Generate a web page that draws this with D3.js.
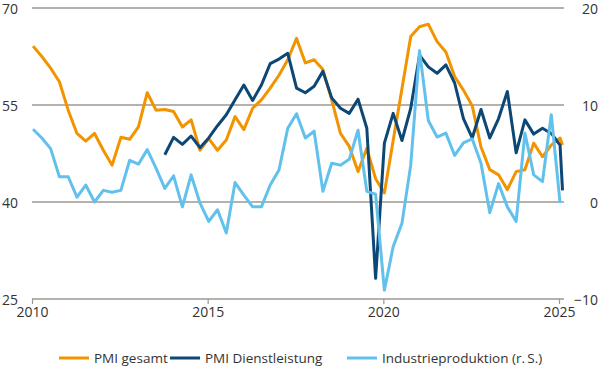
<!DOCTYPE html>
<html>
<head>
<meta charset="utf-8">
<script src="https://cdn.jsdelivr.net/npm/d3@7"></script>
<style>
  body { margin: 0; background: #fff; }
  text { font-family: "Open Sans", "Noto Sans", sans-serif; fill: #333; }
</style>
</head>
<body>
<div id="chart"></div>
<script>
// quarterly series, first value 2010 Q1
const pmiGesamt = [
  64.1, 62.5, 60.7, 58.6, 54.2, 50.6, 49.4, 50.6, 48.0, 45.7,
  50.0, 49.7, 51.6, 56.9, 54.2, 54.3, 54.0, 51.6, 52.7, 48.0,
  49.8, 48.0, 49.6, 53.2, 51.2, 54.5, 55.8, 57.6, 59.6, 62.0,
  65.3, 61.5, 62.0, 60.5, 55.8, 50.6, 48.6, 44.7, 48.3, 43.6,
  41.4, 49.5, 57.5, 65.6, 67.1, 67.5, 64.8, 63.2, 59.4, 57.3,
  54.9, 48.5, 45.0, 44.2, 41.9, 44.7, 45.0, 49.1, 47.0, 48.8,
  49.9, 48.8
];
// starts 2013 Q4
const pmiDienst = [
  47.3, 50.0, 48.9, 50.2, 48.4, 49.9, 51.8, 53.5, 55.8, 58.1,
  55.7, 58.1, 61.4, 62.1, 63.0, 57.6, 56.9, 57.9, 60.2, 56.1,
  54.5, 53.7, 55.9, 51.4, 28.2, 49.1, 53.7, 49.5, 54.5, 62.7,
  60.9, 59.9, 61.2, 58.4, 52.9, 49.9, 54.3, 49.9, 52.9, 57.1,
  47.6, 52.7, 50.5, 51.4, 50.6, 48.8, 41.8
];
const dienstStart = 15;
// right axis
const industrie = [
  7.5, 6.6, 5.5, 2.6, 2.6, 0.5, 1.75, 0.0, 1.2, 1.0,
  1.2, 4.3, 3.9, 5.4, 3.5, 1.4, 2.7, -0.5, 2.8, -0.1,
  -2.0, -0.8, -3.2, 2.0, 0.7, -0.5, -0.5, 1.75, 3.3, 7.6,
  9.1, 6.6, 7.3, 1.1, 4.0, 3.8, 4.4, 7.4, 1.1, 0.8,
  -9.1, -4.6, -2.2, 3.8, 15.6, 8.4, 6.7, 7.1, 4.8, 6.1,
  6.5, 4.0, -1.1, 1.9, -0.5, -2.0, 7.1, 2.8, 2.1, 9.0,
  -0.1
];
const lastDate = 2025.1; // partial period at the end

const xTicks = [2010, 2015, 2020, 2025];
const leftTicks = [25, 40, 55, 70];
const rightTicks = [-10, 0, 10, 20];
const seriesNames = ['PMI gesamt', 'PMI Dienstleistung', 'Industrieproduktion (r.\u2009S.)'];
const colors = ['#f29400', '#0d4776', '#62c1ec'];

const width = 600, height = 380;
const svg = d3.select('#chart').append('svg')
  .attr('width', width)
  .attr('height', height);

const x = d3.scaleLinear().domain([2010, 2025]).range([32, 559]);
const yL = d3.scaleLinear().domain([25, 70]).range([299, 8]);
const yR = d3.scaleLinear().domain([-10, 20]).range([299, 8]);

function dateOf(i, n) {
  return i === n - 1 && i > 60 ? lastDate : 2010.03 + i / 4;
}

// gridlines
svg.append('g')
  .selectAll('line')
  .data(leftTicks.slice(1))
  .enter()
  .append('line')
  .attr('x1', 32).attr('x2', 564)
  .attr('y1', d => yL(d)).attr('y2', d => yL(d))
  .attr('stroke', '#9c988f')
  .attr('stroke-width', 1.5);

// bottom axis
const xAxis = svg.append('g')
  .attr('transform', 'translate(0,' + yL(25) + ')')
  .call(d3.axisBottom(x).tickValues(xTicks).tickFormat(d3.format('d')).tickSize(5).tickPadding(3));
xAxis.select('.domain').remove();
xAxis.append('line')
  .attr('x1', 32).attr('x2', 564)
  .attr('stroke', '#9c988f').attr('stroke-width', 1.5);
xAxis.selectAll('.tick line').attr('stroke', '#9c988f').attr('stroke-width', 1.2);
xAxis.selectAll('.tick text')
  .attr('font-size', 14)
  .attr('fill', '#333')
  .style('font-family', '"Open Sans", "Noto Sans", sans-serif');

// left labels
svg.append('g')
  .selectAll('text')
  .data(leftTicks)
  .enter()
  .append('text')
  .attr('x', 18)
  .attr('y', d => yL(d))
  .attr('dy', '0.45em')
  .attr('text-anchor', 'end')
  .attr('font-size', 14)
  .text(d => d);

// right labels
svg.append('g')
  .selectAll('text')
  .data(rightTicks)
  .enter()
  .append('text')
  .attr('x', 598)
  .attr('y', d => yR(d))
  .attr('dy', '0.45em')
  .attr('text-anchor', 'end')
  .attr('font-size', 14)
  .text(d => (d < 0 ? '\u2212' + Math.abs(d) : d));

// lines
const lineL = d3.line().x(d => x(d[0])).y(d => yL(d[1]));
const lineR = d3.line().x(d => x(d[0])).y(d => yR(d[1]));

const gesamtPts = pmiGesamt.map((v, i) => [dateOf(i, pmiGesamt.length), v]);
const dienstPts = pmiDienst.map((v, i) => [dateOf(i + dienstStart, pmiDienst.length + dienstStart), v]);
const industriePts = industrie.map((v, i) => [dateOf(i, industrie.length), v]);

svg.append('path').datum(gesamtPts)
  .attr('d', lineL).attr('fill', 'none')
  .attr('stroke', colors[0]).attr('stroke-width', 3).attr('stroke-linejoin', 'round');
svg.append('path').datum(dienstPts)
  .attr('d', lineL).attr('fill', 'none')
  .attr('stroke', colors[1]).attr('stroke-width', 3).attr('stroke-linejoin', 'round');
svg.append('path').datum(industriePts)
  .attr('d', lineR).attr('fill', 'none')
  .attr('stroke', colors[2]).attr('stroke-width', 3).attr('stroke-linejoin', 'round');

// legend
const legendX = [59, 170, 347];
const legend = svg.append('g')
  .selectAll('g')
  .data(seriesNames)
  .enter()
  .append('g')
  .attr('transform', (d, i) => 'translate(' + legendX[i] + ',358)');
legend.append('line')
  .attr('x1', 0).attr('x2', 30)
  .attr('stroke', (d, i) => colors[i])
  .attr('stroke-width', 3);
legend.append('text')
  .attr('x', 35)
  .attr('dy', '0.35em')
  .attr('font-size', 13.5)
  .text(d => d);
</script>
</body>
</html>
